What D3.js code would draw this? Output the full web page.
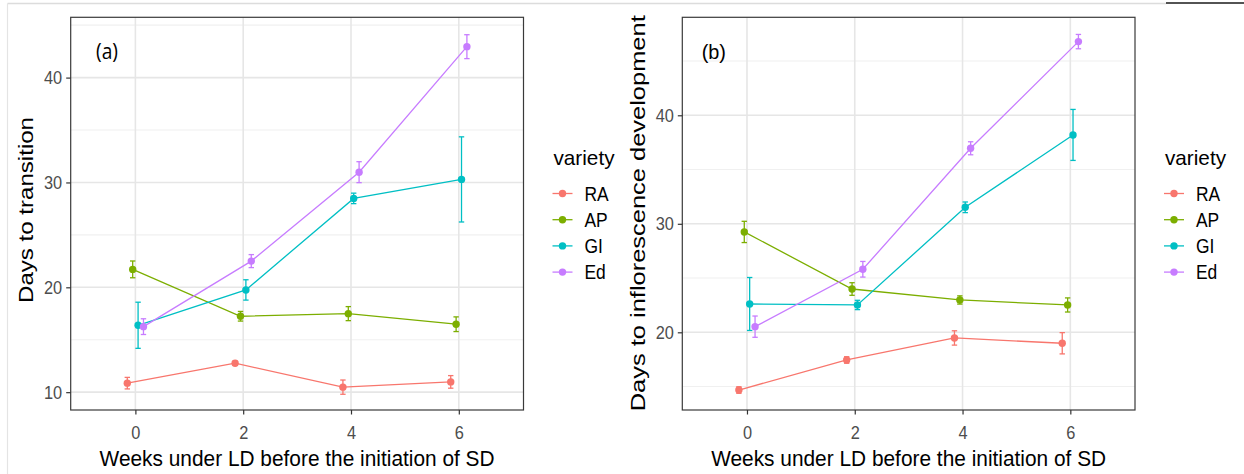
<!DOCTYPE html>
<html>
<head>
<meta charset="utf-8">
<script src="https://cdn.jsdelivr.net/npm/d3@7/dist/d3.min.js"></script>
<style>
  html, body { margin: 0; padding: 0; background: #ffffff; }
  svg { display: block; font-family: "Liberation Sans", Arial, sans-serif; }
</style>
</head>
<body>
<svg id="chart" width="1244" height="474"></svg>
<script>
// Weeks of long days (LD) before short days (SD) start
const weeks = ["0", "2", "4", "6"];
const varieties = ["RA", "AP", "GI", "Ed"];
const varietyColors = ["#F8766D", "#7CAE00", "#00BFC4", "#C77CFF"];

// (a) days to transition: mean and standard error per variety
const transitionRA = [10.86, 12.76, 10.48, 10.98];
const transitionAP = [21.71, 17.24, 17.49, 16.48];
const transitionGI = [16.38, 19.75, 28.48, 30.29];
const transitionEd = [16.25, 22.50, 30.98, 42.95];
const transitionSeRA = [0.55, 0.20, 0.68, 0.60];
const transitionSeAP = [0.80, 0.46, 0.67, 0.70];
const transitionSeGI = [2.20, 0.97, 0.50, 4.06];
const transitionSeEd = [0.75, 0.62, 1.00, 1.14];

// (b) days to inflorescence development: mean and standard error per variety
const inflorRA = [14.68, 17.45, 19.48, 18.99];
const inflorAP = [29.25, 23.99, 22.98, 22.52];
const inflorGI = [22.61, 22.52, 31.52, 38.19];
const inflorEd = [20.52, 25.81, 36.96, 46.79];
const inflorSeRA = [0.30, 0.30, 0.66, 0.98];
const inflorSeAP = [0.98, 0.58, 0.38, 0.65];
const inflorSeGI = [2.44, 0.43, 0.49, 2.35];
const inflorSeEd = [0.98, 0.72, 0.60, 0.66];

const yTicksA = [10, 20, 30, 40];
const yMinorA = [15, 25, 35, 45];
const yTicksB = [20, 30, 40];
const yMinorB = [15, 25, 35, 45];

const svg = d3.select("#chart");

// narrow the glyphs of a text selection to a share of their natural width
function condense(sel, factor) {
  sel.each(function () {
    const w = this.getComputedTextLength();
    d3.select(this).attr("textLength", w * factor).attr("lengthAdjust", "spacingAndGlyphs");
  });
}

// thin frame lines along the top and left of the figure
svg.append("line").attr("x1", 7.5).attr("x2", 1166).attr("y1", 3.5).attr("y2", 3.5)
  .attr("stroke", "#dcdcdc").attr("stroke-width", 1.5);
svg.append("line").attr("x1", 7.5).attr("x2", 7.5).attr("y1", 3.5).attr("y2", 474)
  .attr("stroke", "#e4e4e4").attr("stroke-width", 1.2);
svg.append("line").attr("x1", 1166).attr("x2", 1244).attr("y1", 3).attr("y2", 3)
  .attr("stroke", "#1a1a1a").attr("stroke-width", 1.6);

function buildSeries(means, ses) {
  return varieties.map((v, i) => ({
    variety: v,
    color: varietyColors[i],
    index: i,
    values: weeks.map((w, j) => ({ week: w, mean: means[i][j], se: ses[i][j] }))
  }));
}

function drawPanel(opt) {
  const g = svg.append("g");
  const { left, right, top, bottom } = opt.frame;

  const x = d3.scalePoint().domain(weeks).range([left, right]).padding(0.6);
  const step = x.step();
  const y = d3.scaleLinear().domain(opt.yDomain).range([bottom, top]);

  // dodge the four varieties around each week
  const dodge = i => (i - 1.5) * 0.05 * step;
  const capHalf = 0.025 * step;

  // background grid
  g.selectAll(".minor").data(opt.yMinor).join("line")
    .attr("x1", left).attr("x2", right)
    .attr("y1", d => y(d)).attr("y2", d => y(d))
    .attr("stroke", "#f0f0f0").attr("stroke-width", 1.1);
  g.selectAll(".majorY").data(opt.yTicks).join("line")
    .attr("x1", left).attr("x2", right)
    .attr("y1", d => y(d)).attr("y2", d => y(d))
    .attr("stroke", "#e6e6e6").attr("stroke-width", 1.6);
  g.selectAll(".majorX").data(weeks).join("line")
    .attr("x1", d => x(d)).attr("x2", d => x(d))
    .attr("y1", top).attr("y2", bottom)
    .attr("stroke", "#e6e6e6").attr("stroke-width", 1.6);

  const series = buildSeries(opt.means, opt.ses);

  const line = d3.line()
    .x(d => d.px)
    .y(d => y(d.mean));

  series.forEach(s => {
    s.values.forEach(v => { v.px = x(v.week) + dodge(s.index); });
  });

  // connecting lines
  g.selectAll(".series").data(series).join("path")
    .attr("d", s => line(s.values))
    .attr("fill", "none")
    .attr("stroke", s => s.color)
    .attr("stroke-width", 1.3);

  // error bars
  series.forEach(s => {
    const eb = g.append("g").attr("stroke", s.color).attr("stroke-width", 1.3);
    s.values.forEach(v => {
      const y0 = y(v.mean - v.se), y1 = y(v.mean + v.se);
      eb.append("line").attr("x1", v.px).attr("x2", v.px).attr("y1", y0).attr("y2", y1);
      eb.append("line").attr("x1", v.px - capHalf).attr("x2", v.px + capHalf).attr("y1", y0).attr("y2", y0);
      eb.append("line").attr("x1", v.px - capHalf).attr("x2", v.px + capHalf).attr("y1", y1).attr("y2", y1);
    });
  });

  // points
  series.forEach(s => {
    g.selectAll(null).data(s.values).join("circle")
      .attr("cx", v => v.px).attr("cy", v => y(v.mean))
      .attr("r", 3.7).attr("fill", s.color);
  });

  // panel border
  g.append("rect").attr("x", left).attr("y", top)
    .attr("width", right - left).attr("height", bottom - top)
    .attr("fill", "none").attr("stroke", "#3a3a3a").attr("stroke-width", 1.2);

  // axes
  const xAxis = g.append("g").attr("transform", `translate(0,${bottom})`)
    .call(d3.axisBottom(x).tickSize(4.5).tickPadding(8));
  const yAxis = g.append("g").attr("transform", `translate(${left},0)`)
    .call(d3.axisLeft(y).tickValues(opt.yTicks).tickSize(4.5).tickPadding(4));
  [xAxis, yAxis].forEach(a => {
    a.select(".domain").remove();
    a.selectAll(".tick line").attr("stroke", "#333333").attr("stroke-width", 1.2);
    a.selectAll(".tick text").attr("fill", "#4d4d4d")
      .style("font-size", "19px").style("font-family", "'Liberation Sans', Arial, sans-serif");
  });
  xAxis.selectAll(".tick text").attr("dy", null).attr("y", 28.5);
  condense(xAxis.selectAll(".tick text"), 0.86);
  condense(yAxis.selectAll(".tick text"), 0.86);

  // x axis title
  g.append("text")
    .attr("x", (left + right) / 2).attr("y", 466)
    .attr("text-anchor", "middle")
    .attr("font-size", 21.5)
    .attr("textLength", 395).attr("lengthAdjust", "spacingAndGlyphs")
    .attr("fill", "#000")
    .text("Weeks under LD before the initiation of SD");

  // y axis title
  g.append("text")
    .attr("transform", `translate(${opt.yTitleX},${opt.yTitleY}) rotate(-90)`)
    .attr("text-anchor", "middle")
    .attr("font-size", 21)
    .attr("textLength", opt.yTitleLength).attr("lengthAdjust", "spacingAndGlyphs")
    .attr("fill", "#000")
    .text(opt.yTitle);

  // panel tag
  g.append("text")
    .attr("x", opt.tagX).attr("y", 59)
    .attr("font-size", 21)
    .attr("font-family", opt.tagFont)
    .attr("textLength", opt.tagLength).attr("lengthAdjust", "spacingAndGlyphs")
    .attr("fill", "#000")
    .text(opt.tag);

  // legend
  const lg = g.append("g");
  lg.append("text")
    .attr("x", right + 30).attr("y", 165)
    .attr("font-size", 21)
    .attr("textLength", 61).attr("lengthAdjust", "spacingAndGlyphs")
    .attr("fill", "#000")
    .text("variety");
  const keyY = i => 193.5 + i * 26.2;
  series.forEach(s => {
    const cx = right + 39;
    lg.append("line")
      .attr("x1", cx - 10).attr("x2", cx + 10)
      .attr("y1", keyY(s.index)).attr("y2", keyY(s.index))
      .attr("stroke", s.color).attr("stroke-width", 1.3);
    lg.append("circle")
      .attr("cx", cx).attr("cy", keyY(s.index)).attr("r", 3.7).attr("fill", s.color);
    const t = lg.append("text")
      .attr("x", right + 61).attr("y", keyY(s.index)).attr("dy", "0.36em")
      .attr("font-size", 20)
      .attr("fill", "#000")
      .text(s.variety);
    condense(t, 0.87);
  });
}

drawPanel({
  frame: { left: 70.7, right: 523.5, top: 17.3, bottom: 410 },
  yDomain: [8.3, 45.75],
  yTicks: yTicksA,
  yMinor: yMinorA,
  means: [transitionRA, transitionAP, transitionGI, transitionEd],
  ses: [transitionSeRA, transitionSeAP, transitionSeGI, transitionSeEd],
  yTitle: "Days to transition",
  yTitleX: 33, yTitleY: 210, yTitleLength: 186,
  tag: "(a)", tagX: 96, tagLength: 22, tagFont: "'Open Sans', sans-serif"
});

drawPanel({
  frame: { left: 682.3, right: 1135, top: 17.3, bottom: 410 },
  yDomain: [12.84, 49.03],
  yTicks: yTicksB,
  yMinor: yMinorB,
  means: [inflorRA, inflorAP, inflorGI, inflorEd],
  ses: [inflorSeRA, inflorSeAP, inflorSeGI, inflorSeEd],
  yTitle: "Days to inflorescence development",
  yTitleX: 645, yTitleY: 213.3, yTitleLength: 396,
  tag: "(b)", tagX: 701.7, tagLength: 24.3, tagFont: "'Liberation Sans', Arial, sans-serif"
});
</script>
</body>
</html>
